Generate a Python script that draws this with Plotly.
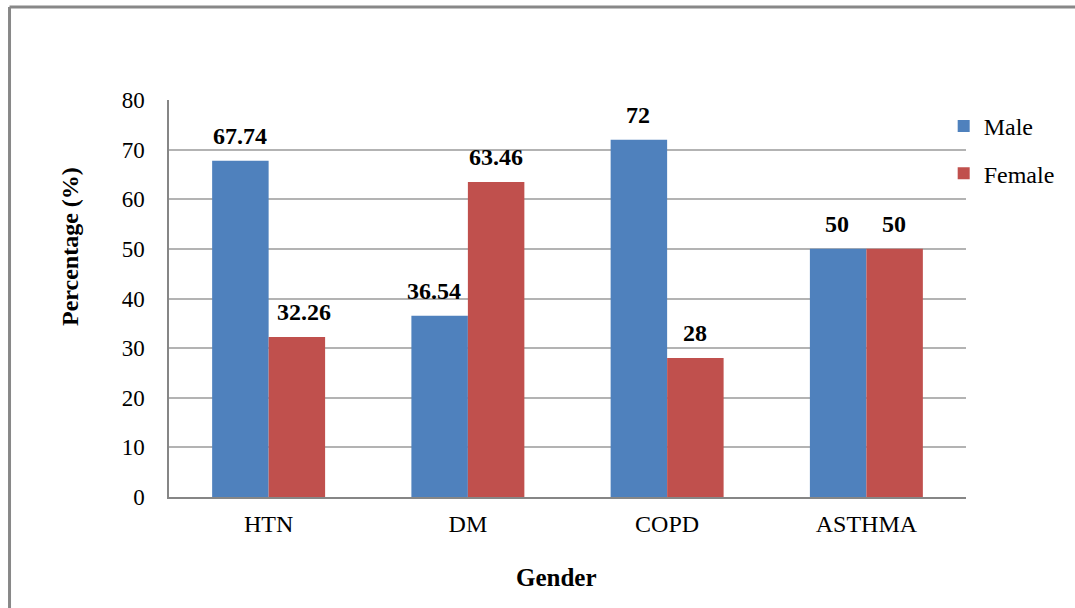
import plotly.graph_objects as go

# Disease categories and percentage by gender
categories = ["HTN", "DM", "COPD", "ASTHMA"]
male = [67.74, 36.54, 72, 50]
female = [32.26, 63.46, 28, 50]
male_labels = ["67.74", "36.54", "72", "50"]
female_labels = ["32.26", "63.46", "28", "50"]

BLUE = "#4F81BD"
RED = "#C0504D"
SERIF = "Liberation Serif, Times New Roman, serif"

fig = go.Figure()
fig.add_trace(go.Bar(name="Male", x=categories, y=male, marker_color=BLUE,
                     marker_line_width=0, legendgroup="m"))
fig.add_trace(go.Bar(name="Female", x=categories, y=female, marker_color=RED,
                     marker_line_width=0, legendgroup="f"))

# Value labels above each bar
annotations = []
for cat, v, lbl in zip(categories, male, male_labels):
    shift = -34 if cat == "DM" else -29
    annotations.append(dict(x=cat, y=v, text=f"<b>{lbl}</b>", xref="x", yref="y",
                            xshift=shift, yshift=10, yanchor="bottom", showarrow=False,
                            font=dict(family=SERIF, size=24, color="#000")))
for cat, v, lbl in zip(categories, female, female_labels):
    shift = 35 if cat == "HTN" else 28
    annotations.append(dict(x=cat, y=v, text=f"<b>{lbl}</b>", xref="x", yref="y",
                            xshift=shift, yshift=10, yanchor="bottom", showarrow=False,
                            font=dict(family=SERIF, size=24, color="#000")))

# Axis titles
annotations.append(dict(x=0.4856, y=-0.204, xref="paper", yref="paper", text="<b>Gender</b>",
                        showarrow=False, xanchor="center", yanchor="middle",
                        font=dict(family=SERIF, size=25, color="#000")))
annotations.append(dict(x=-0.1242, y=0.6297, xref="paper", yref="paper",
                        text="<b>Percentage (%)</b>", textangle=-90, showarrow=False,
                        xanchor="center", yanchor="middle",
                        font=dict(family=SERIF, size=24, color="#000")))

# Outer frame (left and top edges)
frame = dict(color="#888888", width=3)
shapes = [
    dict(type="line", xref="paper", yref="paper", x0=-0.2001, x1=-0.2001, y0=-0.3, y1=1.2343, line=frame),
    dict(type="line", xref="paper", yref="paper", x0=-0.2001, x1=1.2, y0=1.2343, y1=1.2343, line=frame),
]

fig.update_layout(
    width=1075, height=608,
    margin=dict(l=169, r=109, t=100, b=111),
    paper_bgcolor="white", plot_bgcolor="white",
    barmode="group", bargap=0.433, bargroupgap=0,
    font=dict(family=SERIF, size=22, color="#000"),
    showlegend=True,
    legend=dict(x=0.972, y=0.99, xanchor="left", yanchor="top",
                font=dict(family=SERIF, size=24, color="#000"),
                tracegroupgap=13, itemwidth=30, bgcolor="rgba(0,0,0,0)"),
    annotations=annotations,
    shapes=shapes,
)
fig.update_xaxes(showline=True, linecolor="#868686", linewidth=1.5, ticks="",
                 showgrid=False, ticklabelstandoff=4,
                 tickfont=dict(family=SERIF, size=24, color="#000"))
fig.update_yaxes(range=[0, 80], dtick=10, showline=True, linecolor="#868686", linewidth=1.5,
                 ticks="", showgrid=True, gridcolor="#B3B3B3", gridwidth=1.5,
                 zeroline=False, ticklabelstandoff=18,
                 tickfont=dict(family=SERIF, size=23, color="#000"))

fig.write_html("out.html")
